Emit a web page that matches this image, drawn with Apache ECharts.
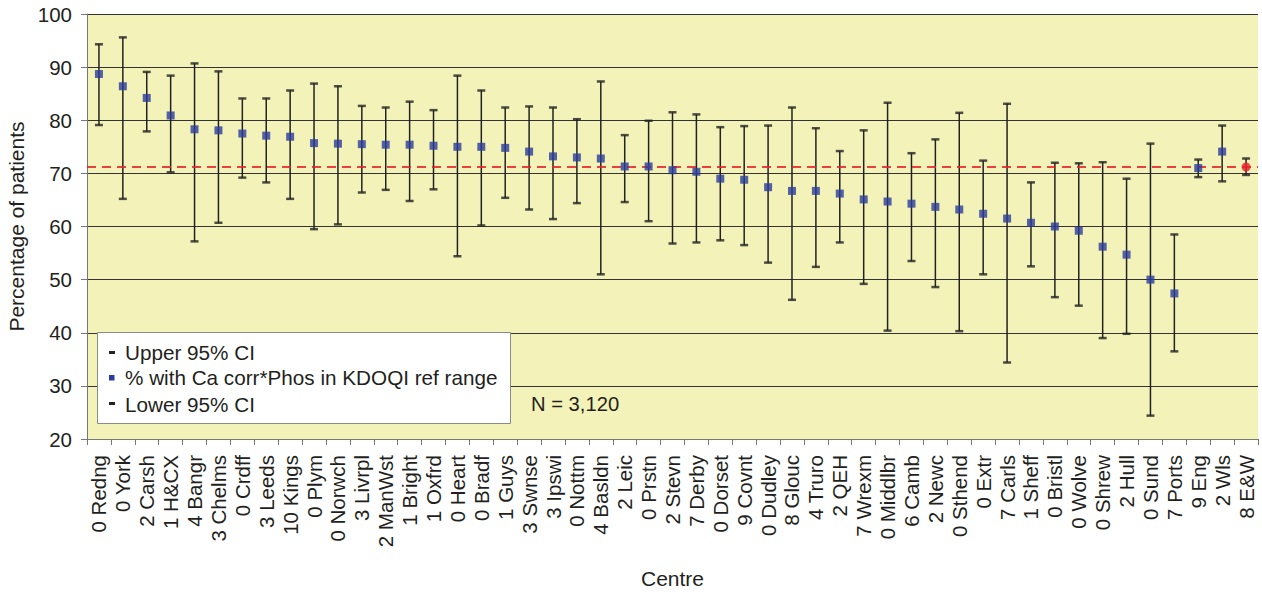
<!DOCTYPE html>
<html>
<head>
<meta charset="utf-8">
<script src="https://cdn.jsdelivr.net/npm/echarts@6/dist/echarts.min.js"></script>
<style>
  html, body { margin: 0; padding: 0; background: #ffffff; }
  #chart { width: 1262px; height: 592px; }
</style>
</head>
<body>
<div id="chart"></div>
<script>
// Renal centres, ordered by percentage in range
const centres = ['0 Redng','0 York','2 Carsh','1 H&CX','4 Bangr','3 Chelms','0 Crdff','3 Leeds','10 Kings','0 Plym',
  '0 Norwch','3 Livrpl','2 ManWst','1 Bright','1 Oxfrd','0 Heart','0 Bradf','1 Guys','3 Swnse','3 Ipswi',
  '0 Nottm','4 Basldn','2 Leic','0 Prstn','2 Stevn','7 Derby','0 Dorset','9 Covnt','0 Dudley','8 Glouc',
  '4 Truro','2 QEH','7 Wrexm','0 Middlbr','6 Camb','2 Newc','0 Sthend','0 Extr','7 Carls','1 Sheff',
  '0 Bristl','0 Wolve','0 Shrew','2 Hull','0 Sund','7 Ports','9 Eng','2 Wls','8 E&W'];

// % with Ca corr*Phos in KDOQI ref range
const percentInRange = [88.7,86.4,84.2,80.9,78.3,78.1,77.5,77.1,76.9,75.7,
  75.6,75.5,75.4,75.4,75.2,75.0,75.0,74.8,74.1,73.2,
  73.0,72.8,71.3,71.3,70.6,70.3,69.0,68.8,67.4,66.7,
  66.7,66.2,65.1,64.7,64.3,63.7,63.2,62.4,61.5,60.7,
  60.0,59.2,56.2,54.7,50.0,47.4,71.0,74.1,71.2];

// Upper 95% confidence limits
const upperCI = [94.3,95.6,89.1,88.4,90.7,89.2,84.1,84.1,85.6,86.9,
  86.4,82.7,82.4,83.5,81.9,88.4,85.6,82.4,82.6,82.4,
  80.2,87.3,77.2,79.9,81.5,81.1,78.7,78.9,79.0,82.4,
  78.5,74.2,78.1,83.3,73.8,76.4,81.4,72.4,83.1,68.3,
  72.0,71.9,72.1,69.0,75.6,58.5,72.6,79.0,72.8];

// Lower 95% confidence limits
const lowerCI = [79.1,65.2,77.9,70.2,57.2,60.7,69.2,68.3,65.2,59.5,
  60.4,66.4,66.9,64.8,67.0,54.4,60.2,65.4,63.2,61.4,
  64.4,51.0,64.6,61.0,56.8,57.0,57.4,56.5,53.2,46.2,
  52.4,57.0,49.2,40.4,53.5,48.6,40.3,51.0,34.4,52.5,
  46.7,45.1,39.0,39.8,24.4,36.5,69.3,68.5,69.7];

// National (E&W) figure, drawn as the reference line
const nationalValue = 71.2;

const yTicks = { min: 20, max: 100, interval: 10 };

const FONT = 'Liberation Sans';
const TEXT = '#231f20';
const BLUE = '#2b3c9c';
const RED = '#e8202a';
const BAR = '#222222';
const LEGEND_FONT = '20.7px "Liberation Sans"';

const last = centres.length - 1;

const meanData = percentInRange.map((v, i) => i === last
  ? { value: v, symbol: 'circle', symbolSize: 9, itemStyle: { color: RED } }
  : v);

const chart = echarts.init(document.getElementById('chart'), null, { renderer: 'svg' });

chart.setOption({
  animation: false,
  backgroundColor: '#ffffff',
  grid: {
    left: 87, right: 4, top: 14, bottom: 153,
    outerBoundsMode: 'none',
    containLabel: false,
    show: true, backgroundColor: '#f3f3b9', borderWidth: 0
  },
  xAxis: {
    type: 'category',
    data: centres,
    boundaryGap: true,
    name: 'Centre',
    nameLocation: 'middle',
    nameGap: 129,
    nameTextStyle: { fontFamily: FONT, fontSize: 21, color: TEXT },
    axisLine: { lineStyle: { color: '#777777', width: 1 } },
    axisTick: { show: true, interval: 0, length: 6, lineStyle: { color: '#777777' } },
    axisLabel: { interval: 0, rotate: 90, fontFamily: FONT, fontSize: 20.5, color: TEXT, margin: 16 },
    splitLine: { show: false }
  },
  yAxis: {
    type: 'value',
    min: yTicks.min, max: yTicks.max, interval: yTicks.interval,
    name: 'Percentage of patients',
    nameLocation: 'middle',
    nameGap: 57,
    nameTextStyle: { fontFamily: FONT, fontSize: 21, color: TEXT },
    axisLine: { show: true, lineStyle: { color: '#777777', width: 1 } },
    axisTick: { show: true, length: 6, lineStyle: { color: '#777777' } },
    axisLabel: { fontFamily: FONT, fontSize: 20.5, color: TEXT, margin: 15 },
    splitLine: { show: true, lineStyle: { color: '#333333', width: 1 } }
  },
  series: [
    {
      // vertical confidence interval lines
      type: 'custom',
      name: 'CI',
      data: centres.map((c, i) => [i, lowerCI[i], upperCI[i]]),
      encode: { x: 0, y: [1, 2] },
      renderItem: (params, api) => {
        const lo = api.coord([api.value(0), api.value(1)]);
        const hi = api.coord([api.value(0), api.value(2)]);
        return {
          type: 'line',
          shape: { x1: lo[0], y1: lo[1], x2: hi[0], y2: hi[1] },
          style: { stroke: BAR, lineWidth: 1.5 }
        };
      },
      markLine: {
        silent: true,
        symbol: 'none',
        label: { show: false },
        lineStyle: { color: RED, type: [9, 6], width: 2, opacity: 0.85 },
        data: [{ yAxis: nationalValue }]
      },
      z: 3
    },
    {
      type: 'scatter',
      name: 'Upper 95% CI',
      data: upperCI,
      symbol: 'rect',
      symbolSize: [8, 2.5],
      itemStyle: { color: BAR },
      z: 4
    },
    {
      type: 'scatter',
      name: 'Lower 95% CI',
      data: lowerCI,
      symbol: 'rect',
      symbolSize: [8, 2.5],
      itemStyle: { color: BAR },
      z: 4
    },
    {
      type: 'scatter',
      name: '% with Ca corr*Phos in KDOQI ref range',
      data: meanData,
      symbol: 'rect',
      symbolSize: 8,
      itemStyle: { color: BLUE },
      z: 5
    }
  ],
  graphic: [
    {
      type: 'group',
      left: 97, top: 332,
      z: 100,
      children: [
        { type: 'rect', z: 100, shape: { x: 0.5, y: 0.5, width: 413, height: 91 },
          style: { fill: '#ffffff', stroke: '#8a8a8a', lineWidth: 1 } },
        { type: 'rect', z: 101, shape: { x: 12, y: 19, width: 6, height: 3 }, style: { fill: BAR } },
        { type: 'text', z: 101, x: 28, y: 20, style: { text: 'Upper 95% CI', font: LEGEND_FONT, fill: TEXT, textVerticalAlign: 'middle' } },
        { type: 'rect', z: 101, shape: { x: 12, y: 43, width: 5.5, height: 5.5 }, style: { fill: BLUE } },
        { type: 'text', z: 101, x: 28, y: 45.5, style: { text: '% with Ca corr*Phos in KDOQI ref range', font: LEGEND_FONT, fill: TEXT, textVerticalAlign: 'middle' } },
        { type: 'rect', z: 101, shape: { x: 12, y: 70, width: 6, height: 3 }, style: { fill: BAR } },
        { type: 'text', z: 101, x: 28, y: 72, style: { text: 'Lower 95% CI', font: LEGEND_FONT, fill: TEXT, textVerticalAlign: 'middle' } }
      ]
    },
    {
      type: 'text',
      x: 531, y: 404,
      z: 100,
      style: { text: 'N = 3,120', font: '20.2px "Liberation Sans"', fill: TEXT, textVerticalAlign: 'middle' }
    }
  ]
});
</script>
</body>
</html>
